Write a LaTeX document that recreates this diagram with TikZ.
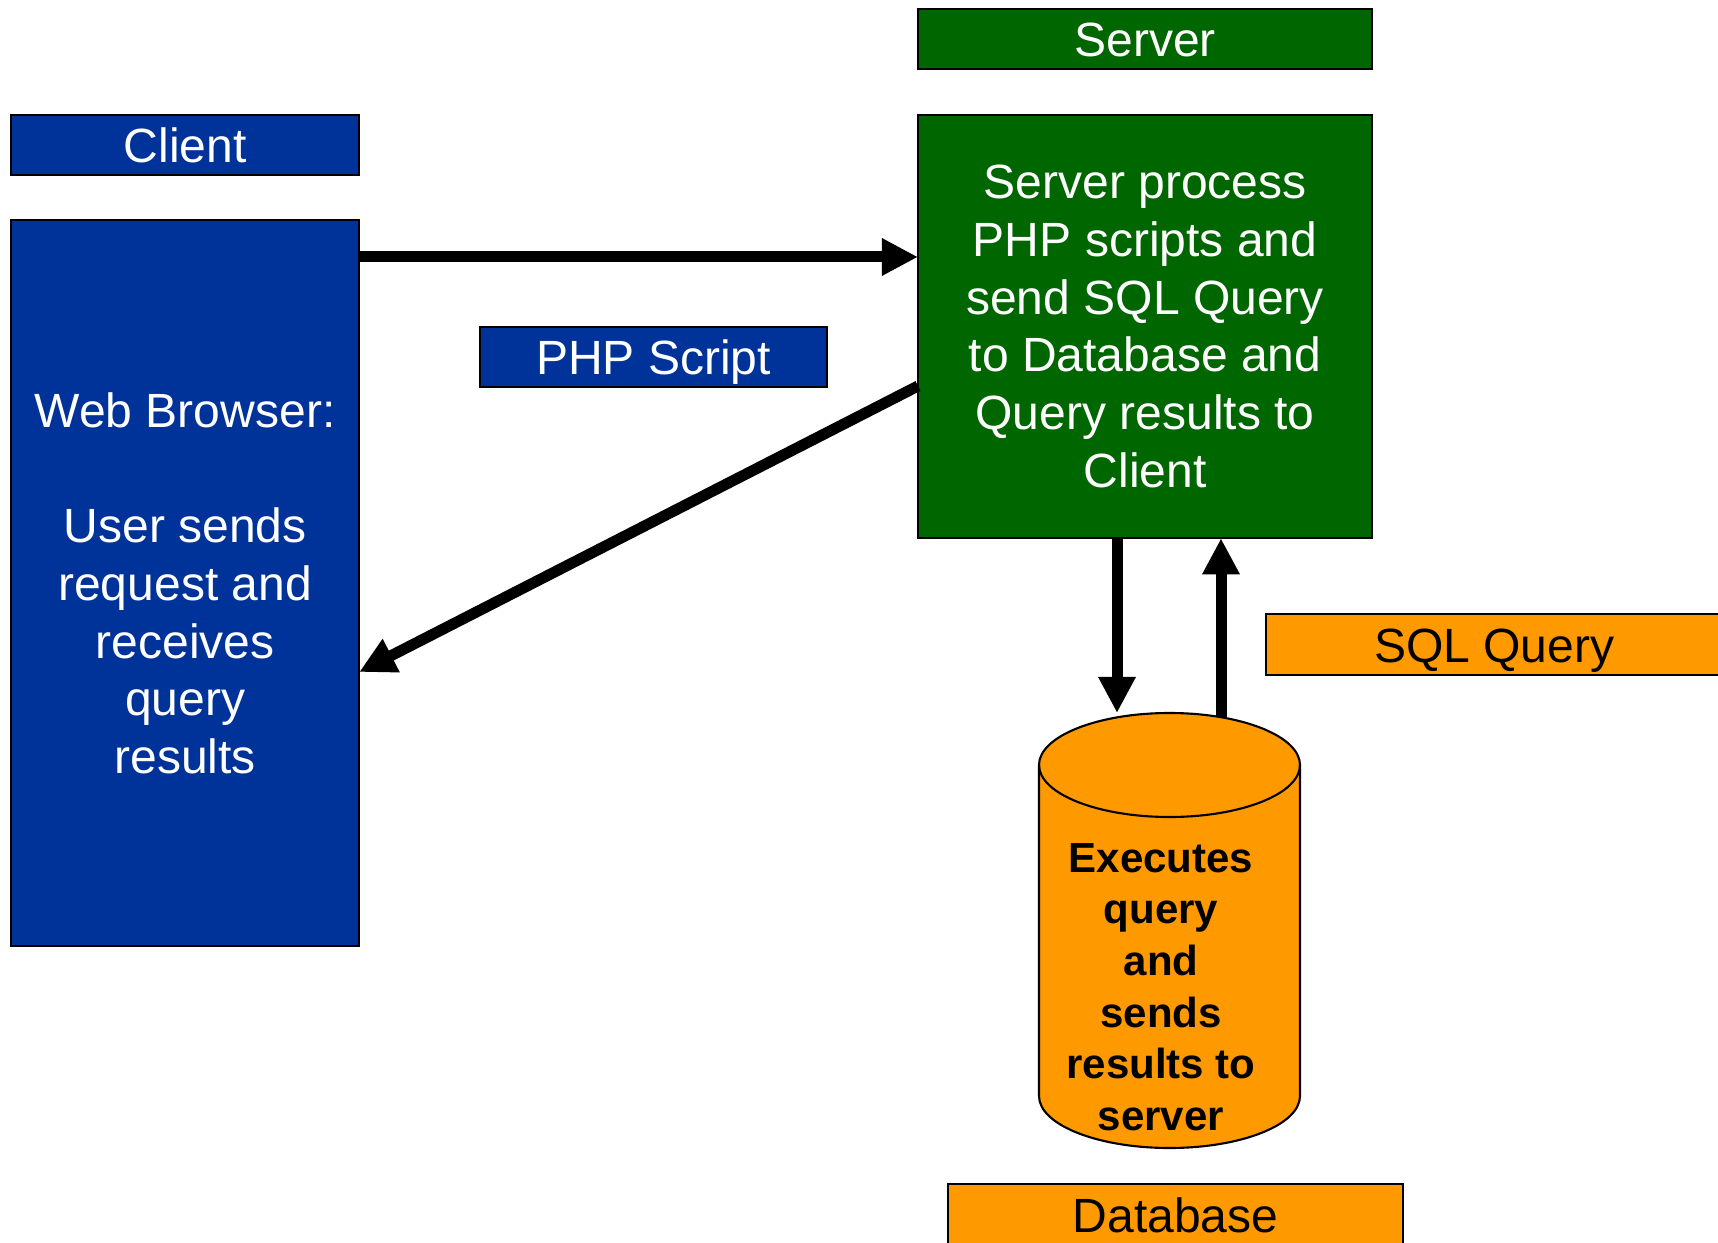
\documentclass[tikz,border=0pt]{standalone}
\usepackage{fontspec}
\setmainfont{Liberation Sans}
\usetikzlibrary{arrows.meta}
\definecolor{cblue}{RGB}{0,51,153}
\definecolor{cgreen}{RGB}{0,102,0}
\definecolor{corange}{RGB}{255,153,0}
\begin{document}
\begin{tikzpicture}[x=0.01cm,y=0.01cm,
  box/.style={draw=black, line width=0.6pt, inner sep=0pt, outer sep=0pt, anchor=north west, align=center, font=\fontsize{13.66}{16.4}\selectfont},
  label/.style={text height=12pt, text depth=1.9pt},
  bluebox/.style={box, fill=cblue, text=white},
  greenbox/.style={box, fill=cgreen, text=white},
  orangebox/.style={box, fill=corange, text=black},
  arr/.style={line width=0.11cm, -{Triangle[length=0.36cm,width=0.35cm]}}]
\useasboundingbox (0,0) rectangle (1718,-1243);
% boxes
\node[bluebox, label, minimum width=3.48cm, minimum height=0.60cm] (client) at (11,-115) {Client};
\node[bluebox, minimum width=3.48cm, minimum height=7.26cm] (browser) at (11,-220)
  {Web Browser:\\[16.4pt]User sends\\request and\\receives\\query\\results};
\node[greenbox, label, minimum width=4.54cm, minimum height=0.60cm] (server) at (918,-9) {Server};
\node[greenbox, minimum width=4.54cm, minimum height=4.23cm] (proc) at (918,-115)
  {Server process\\PHP scripts and\\send SQL Query\\to Database and\\Query results to\\Client};
\node[bluebox, label, minimum width=3.47cm, minimum height=0.60cm] (php) at (480,-327) {PHP Script};
\node[orangebox, label, minimum width=4.56cm, minimum height=0.61cm] (sql) at (1266,-614) {SQL Query};
\node[orangebox, label, minimum width=4.55cm, minimum height=0.62cm] (dblabel) at (948,-1184) {Database};
% cylinder
\filldraw[fill=corange, draw=black, line width=0.6pt]
  (1039,-765) -- (1039,-1096) arc[start angle=180, end angle=360, x radius=130.5, y radius=52]
  -- (1300,-765) arc[start angle=0, end angle=180, x radius=130.5, y radius=52] -- cycle;
\draw[line width=0.6pt] (1039,-765) arc[start angle=180, end angle=360, x radius=130.5, y radius=52];
\node[font=\bfseries\fontsize{11.95}{14.65}\selectfont, align=center, text=black] (dbtext) at (1161,-987)
  {Executes\\query\\and\\sends\\results to\\server};
% helper coordinates
\coordinate (ya) at (0,-257);
\coordinate (yb) at (0,-386);
\coordinate (yc) at (0,-672);
\coordinate (xd) at (1117,0);
\coordinate (xu) at (1221,0);
\coordinate (dbtopL) at (1117,-713);
\coordinate (dbtopR) at (1221,-717);
% arrows
\draw[arr] (browser.east |- ya) -- (proc.west |- ya);
\draw[arr] (proc.west |- yb) -- (browser.east |- yc);
\draw[arr] (proc.south -| xd) -- (dbtopL);
\draw[arr] (dbtopR) -- (proc.south -| xu);
\end{tikzpicture}
\end{document}
